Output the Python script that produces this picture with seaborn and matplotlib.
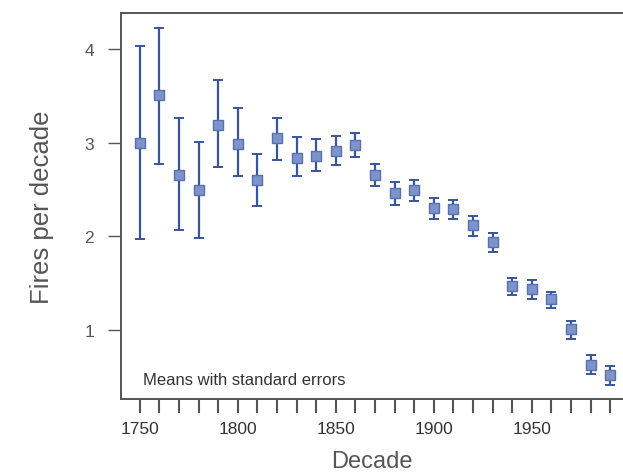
import matplotlib
matplotlib.use("Agg")
import matplotlib.pyplot as plt
import seaborn as sns
import numpy as np
import pandas as pd

decades = [1750, 1760, 1770, 1780, 1790, 1800, 1810, 1820, 1830, 1840, 1850, 1860,
           1870, 1880, 1890, 1900, 1910, 1920, 1930, 1940, 1950, 1960, 1970, 1980, 1990]
means = [3.00, 3.51, 2.66, 2.50, 3.19, 2.99, 2.60, 3.05, 2.84, 2.86, 2.91, 2.98,
         2.66, 2.47, 2.50, 2.30, 2.29, 2.12, 1.94, 1.47, 1.44, 1.33, 1.01, 0.63, 0.52]
upper = [4.04, 4.23, 3.27, 3.01, 3.67, 3.37, 2.88, 3.27, 3.06, 3.04, 3.07, 3.11,
         2.78, 2.58, 2.60, 2.41, 2.39, 2.22, 2.04, 1.56, 1.53, 1.41, 1.10, 0.73, 0.61]
lower = [1.97, 2.77, 2.07, 1.98, 2.74, 2.65, 2.33, 2.82, 2.65, 2.70, 2.76, 2.85,
         2.54, 2.34, 2.38, 2.19, 2.19, 2.01, 1.83, 1.37, 1.33, 1.23, 0.90, 0.53, 0.41]
x_tick_labels = [1750, 1800, 1850, 1900, 1950]
y_ticks = [1, 2, 3, 4]

df = pd.DataFrame({"Decade": decades, "mean": means, "upper": upper, "lower": lower})

sns.set_style("white")
plt.rcParams['font.family'] = ['Liberation Sans', 'DejaVu Sans']

fig = plt.figure(figsize=(6.23, 4.77), dpi=100)
ax = fig.add_axes([121/623, 1 - 400/477, 1 - 121/623, (400 - 14)/477])

err_lo = df["mean"] - df["lower"]
err_hi = df["upper"] - df["mean"]
ax.errorbar(df["Decade"], df["mean"], yerr=[err_lo, err_hi], fmt="none",
            ecolor="#37559c", elinewidth=1.6, capsize=3.5, capthick=1.4, zorder=2)
sns.scatterplot(data=df, x="Decade", y="mean", marker="s", s=60,
                color="#7d93c9", edgecolor="#5670b0", linewidth=1.0, ax=ax, zorder=3)

ax.set_xlim(1740.4, 1996.5)
ax.set_ylim(0.262, 4.39)
ax.set_xticks(decades, minor=False)
ax.set_xticklabels([str(d) if d in x_tick_labels else "" for d in decades])
ax.set_yticks(y_ticks)
ax.set_yticklabels([str(v) for v in y_ticks])

spine_c = "#555555"
for s in ["left", "top", "bottom"]:
    ax.spines[s].set_color(spine_c)
    ax.spines[s].set_linewidth(1.4)
ax.spines["right"].set_visible(False)

ax.tick_params(axis="x", direction="out", length=10, width=1.5, color=spine_c,
               labelsize=12.5, labelcolor="#333333", pad=6, bottom=True)
ax.tick_params(axis="y", direction="out", length=9.5, width=1.0, color=spine_c,
               labelsize=12.5, labelcolor="#555555", pad=10, left=True)

ax.set_xlabel("Decade", fontsize=17, color="#555555", labelpad=10)
ax.set_ylabel("Fires per decade", fontsize=18.5, color="#555555", labelpad=22)

ax.text(0.043, 0.05, "Means with standard errors", transform=ax.transAxes,
        fontsize=12, color="#333333", ha="left", va="center")

fig.savefig("out.png", dpi=100)
